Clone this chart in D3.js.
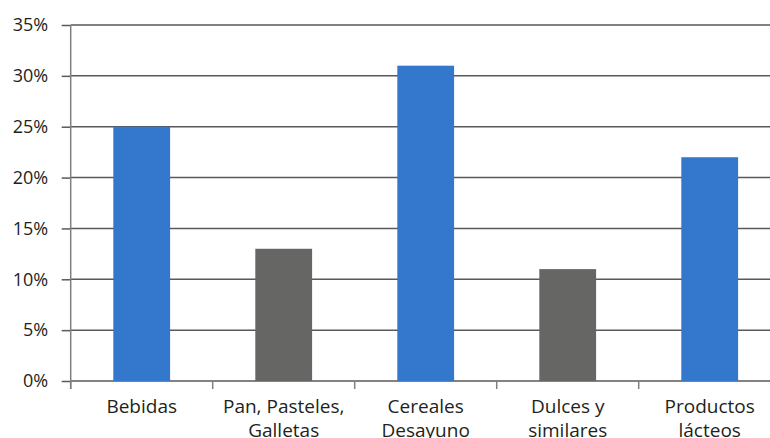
<!DOCTYPE html>
<html>
<head>
<meta charset="utf-8">
<script src="https://cdn.jsdelivr.net/npm/d3@7"></script>
<style>
  body { margin: 0; background: #fff; }
  svg { display: block; }
  .tick text { font-family: "Open Sans", sans-serif; font-size: 18px; fill: #231f20; }
</style>
</head>
<body>
<svg id="chart"></svg>
<script>
// chart data
const categories = [["Bebidas"], ["Pan, Pasteles,", "Galletas"], ["Cereales", "Desayuno"], ["Dulces y", "similares"], ["Productos", "lácteos"]];
const values = [25, 13, 31, 11, 22];
const colors = ["#3478cd", "#666765", "#3478cd", "#666765", "#3478cd"];
const yTicks = [0, 5, 10, 15, 20, 25, 30, 35];

const W = 770, H = 438;
const plot = { left: 70.7, right: 780.7, top: 25, bottom: 381 };

const svg = d3.select("#chart")
    .attr("width", W)
    .attr("height", H);

const keys = categories.map(c => c.join(" "));

// band scale for the categories
const x = d3.scaleBand()
    .domain(keys)
    .range([plot.left, plot.right])
    .paddingInner(0.6)
    .paddingOuter(0.3);

const y = d3.scaleLinear()
    .domain([0, 35])
    .range([plot.bottom, plot.top]);

// gridlines + y labels
const yAxis = svg.append("g")
    .attr("transform", `translate(${plot.left},0)`)
    .call(d3.axisLeft(y).tickValues(yTicks).tickFormat(d => d + "%")
        .tickSize(9).tickPadding(13.5));
yAxis.select(".domain").remove();
yAxis.selectAll(".tick line").attr("stroke", "#595959").attr("stroke-width", 1.5);

svg.append("g")
    .selectAll("line")
    .data(yTicks)
    .join("line")
    .attr("x1", plot.left)
    .attr("x2", W)
    .attr("y1", d => y(d))
    .attr("y2", d => y(d))
    .attr("stroke", "#595959")
    .attr("stroke-width", 1.5);

// bars
svg.append("g")
    .selectAll("rect")
    .data(values)
    .join("rect")
    .attr("x", (d, i) => x(keys[i]))
    .attr("width", x.bandwidth())
    .attr("y", d => y(d))
    .attr("height", d => y(0) - y(d))
    .attr("fill", (d, i) => colors[i]);

// y axis line
svg.append("line")
    .attr("x1", plot.left).attr("x2", plot.left)
    .attr("y1", plot.top).attr("y2", plot.bottom + 8)
    .attr("stroke", "#7f7f7f")
    .attr("stroke-width", 1.5);

// x axis category separators
const step = x.step();
const seps = d3.range(keys.length + 1).map(i => plot.left + i * step);
svg.append("g")
    .selectAll("line")
    .data(seps)
    .join("line")
    .attr("x1", d => d).attr("x2", d => d)
    .attr("y1", plot.bottom).attr("y2", plot.bottom + 8)
    .attr("stroke", "#7f7f7f")
    .attr("stroke-width", 1.5);

// category labels (two lines, second line runs off the bottom like the original)
const labels = svg.append("g")
    .selectAll("text")
    .data(categories)
    .join("text")
    .attr("x", (d, i) => x(keys[i]) + x.bandwidth() / 2)
    .attr("y", 413)
    .attr("text-anchor", "middle")
    .style("font-family", "'Open Sans', sans-serif")
    .style("font-size", "19px")
    .style("fill", "#231f20");

labels.selectAll("tspan")
    .data(d => d)
    .join("tspan")
    .attr("x", function () { return d3.select(this.parentNode).attr("x"); })
    .attr("dy", (d, i) => i === 0 ? 0 : 24)
    .text(d => d);
</script>
</body>
</html>
